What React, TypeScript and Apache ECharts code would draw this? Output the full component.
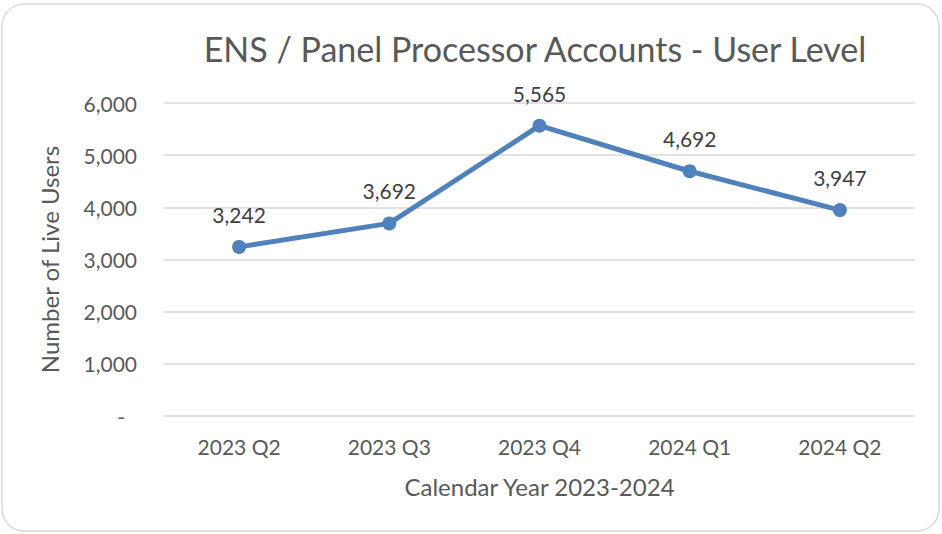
import React, { useEffect, useRef } from "react";
import * as echarts from "echarts";

const categories = ["2023 Q2", "2023 Q3", "2023 Q4", "2024 Q1", "2024 Q2"];
const liveUsers = [3242, 3692, 5565, 4692, 3947];
const yTicks = [0, 1000, 2000, 3000, 4000, 5000, 6000];

const FONT = "Lato, 'Open Sans', sans-serif";
const fmt = (v: number) => (v === 0 ? "-" : v.toLocaleString("en-US"));

export default function App() {
  const ref = useRef<HTMLDivElement>(null);
  useEffect(() => {
    const chart = echarts.init(ref.current!, undefined, { renderer: "svg" });
    chart.setOption({
      animation: false,
      backgroundColor: "#ffffff",
      graphic: [
        {
          type: "rect",
          shape: { x: 2, y: 4, width: 937, height: 527, r: 22 },
          style: { fill: "none", stroke: "#d9d9d9", lineWidth: 1.5 },
          silent: true,
        },
      ],
      title: {
        text: "ENS / Panel Processor Accounts - User Level",
        left: 530,
        top: 26,
        textAlign: "center",
        textStyle: { fontFamily: FONT, fontSize: 34, fontWeight: "normal", color: "#595959" },
      },
      grid: { left: 164, right: 27, top: 103, bottom: 118 },
      xAxis: {
        type: "category",
        data: categories,
        boundaryGap: true,
        axisLine: { show: false },
        axisTick: { show: false },
        axisLabel: { fontFamily: FONT, fontSize: 21, color: "#595959", margin: 20 },
        name: "Calendar Year 2023-2024",
        nameLocation: "middle",
        nameGap: 58,
        nameMoveOverlap: false,
        nameTextStyle: { fontFamily: FONT, fontSize: 24, color: "#595959" },
      },
      yAxis: {
        type: "value",
        min: yTicks[0],
        max: yTicks[yTicks.length - 1],
        interval: 1000,
        axisLine: { show: false },
        axisTick: { show: false },
        splitLine: { lineStyle: { color: "#d9d9d9", width: 1.5 } },
        axisLabel: {
          fontFamily: FONT,
          fontSize: 21,
          color: "#595959",
          margin: 27,
          formatter: (v: number) => (v === 0 ? "{z|-}" : "{n|" + fmt(v) + "}"),
          rich: {
            n: { fontFamily: FONT, fontSize: 21, color: "#595959" },
            z: { fontFamily: FONT, fontSize: 21, color: "#595959", padding: [0, 12, 0, 0] },
          },
        },
        name: "Number of Live Users",
        nameLocation: "middle",
        nameGap: 103,
        nameMoveOverlap: false,
        nameRotate: 90,
        nameTextStyle: { fontFamily: FONT, fontSize: 24, color: "#595959" },
      },
      series: [
        {
          type: "line",
          data: liveUsers,
          symbol: "circle",
          symbolSize: 14,
          lineStyle: { color: "#4f81bd", width: 5 },
          itemStyle: { color: "#4f81bd" },
          label: {
            show: true,
            position: "top",
            distance: 15,
            fontFamily: FONT,
            fontSize: 21,
            color: "#404040",
            formatter: (p: any) => fmt(p.value),
          },
        },
      ],
    });
    return () => chart.dispose();
  }, []);
  return (
    <div
      ref={ref}
      style={{ position: "fixed", left: 0, top: 0, width: 942, height: 534 }}
    />
  );
}
